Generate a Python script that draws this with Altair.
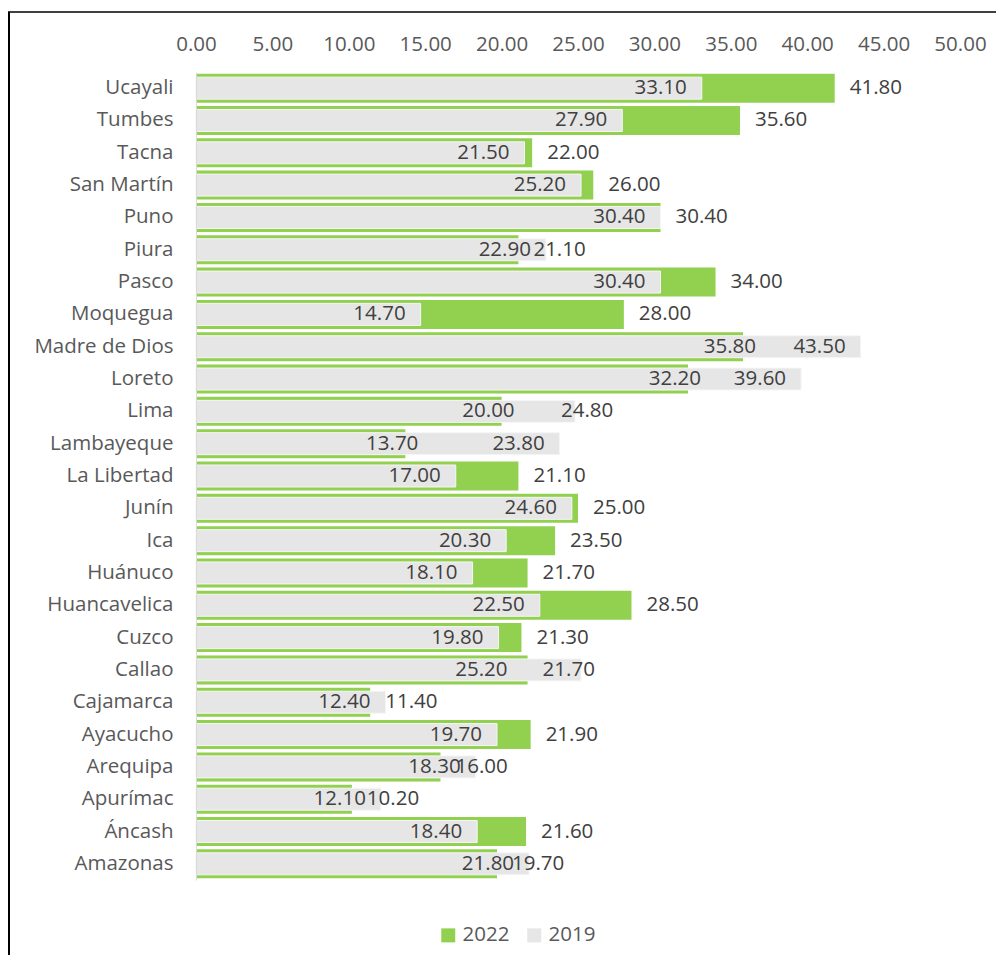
import altair as alt
import numpy as np
import pandas as pd

# ---- data ----
regions = ["Ucayali", "Tumbes", "Tacna", "San Martín", "Puno", "Piura", "Pasco",
           "Moquegua", "Madre de Dios", "Loreto", "Lima", "Lambayeque",
           "La Libertad", "Junín", "Ica", "Huánuco", "Huancavelica", "Cuzco",
           "Callao", "Cajamarca", "Ayacucho", "Arequipa", "Apurímac", "Áncash",
           "Amazonas"]
v2022 = [41.8, 35.6, 22.0, 26.0, 30.4, 21.1, 34.0, 28.0, 35.8, 32.2, 20.0, 13.7,
         21.1, 25.0, 23.5, 21.7, 28.5, 21.3, 21.7, 11.4, 21.9, 16.0, 10.2, 21.6,
         19.7]
v2019 = [33.1, 27.9, 21.5, 25.2, 30.4, 22.9, 30.4, 14.7, 43.5, 39.6, 24.8, 23.8,
         17.0, 24.6, 20.3, 18.1, 22.5, 19.8, 25.2, 12.4, 19.7, 18.3, 12.1, 18.4,
         21.8]
years = ["2022", "2019"]
x_ticks = [0, 5, 10, 15, 20, 25, 30, 35, 40, 45, 50]

n = len(regions)
long_df = pd.DataFrame({
    "region": regions * 2,
    "year": [years[0]] * n + [years[1]] * n,
    "value": v2022 + v2019,
})

# label table: one row per label, anchor position + text value
diff = np.array(v2019) - np.array(v2022)
rows = []
for i, r in enumerate(regions):
    d = diff[i]
    # 2019 label
    if 3 <= d < 4:
        mode19 = "r_green"
    elif 4 <= d < 5:
        mode19 = "l_gray"
    else:
        mode19 = "r_gray"
    # 2022 label
    mode22 = "r_green_out" if d >= 4 else "l_green"
    rows.append({"region": r, "value": v2022[i] if mode19 == "r_green" else v2019[i],
                 "text": v2019[i], "mode": mode19})
    rows.append({"region": r, "value": v2022[i], "text": v2022[i], "mode": mode22})
lab_df = pd.DataFrame(rows)

GREEN = "#92D050"
GRAY = "#E7E6E6"
FONT = "Open Sans"
FS = 20.5

W, H = 764, 808

xscale = alt.Scale(domain=[0, 50], nice=False, zero=True)
yscale = alt.Scale(paddingInner=0, paddingOuter=0)

Y = alt.Y("region:N", sort=regions, scale=yscale,
          axis=alt.Axis(title=None, ticks=False, labelPadding=23,
                        domainColor="#D9D9D9", domainWidth=1, zindex=1,
                        labelFont=FONT, labelFontSize=FS, labelColor="#595959"))

X = alt.X("value:Q", scale=xscale,
          axis=alt.Axis(orient="top", values=x_ticks, format=".2f",
                        domain=False, ticks=False, grid=False,
                        labelPadding=18, labelFlush=False, labelOverlap=False,
                        title=None, labelFont=FONT, labelFontSize=FS,
                        labelColor="#595959"))

color = alt.Color("year:N",
                  scale=alt.Scale(domain=years, range=[GREEN, GRAY]),
                  legend=alt.Legend(title=None, orient="none", direction="horizontal",
                                    legendX=242, legendY=853,
                                    symbolType="square", symbolSize=196,
                                    symbolStrokeWidth=0, labelOffset=4,
                                    columnPadding=14, labelFont=FONT,
                                    labelFontSize=FS, labelColor="#595959"))

bars = alt.Chart(long_df)
green_bars = bars.transform_filter(alt.datum.year == "2022").mark_bar(size=29).encode(
    x=X, y=Y, color=color)
gray_bars = bars.transform_filter(alt.datum.year == "2019").mark_bar(
    size=22, stroke="#F6F6F6", strokeWidth=1).encode(x=X, y=Y, color=color)

lab = alt.Chart(lab_df)


def txt(mode, align, dx):
    return lab.transform_filter(alt.datum.mode == mode).mark_text(
        align=align, baseline="middle", dx=dx, font=FONT, fontSize=FS,
        color="#404040").encode(
        x=X, y=Y, text=alt.Text("text:Q", format=".2f"))


labels = [
    txt("r_gray", "right", -15),
    txt("r_green", "right", -20),
    txt("l_gray", "left", -14),
    txt("l_green", "left", 15),
    txt("r_green_out", "right", 13),
]

# outer frame (left and top border of the chart box)
frame_df = pd.DataFrame({"k": [0]})
frame_left = alt.Chart(frame_df).mark_rule(color="#000000", strokeWidth=2).encode(
    x=alt.value(-187), y=alt.value(-60), y2=alt.value(H + 80))
frame_top = alt.Chart(frame_df).mark_rule(color="#000000", strokeWidth=1.5).encode(
    y=alt.value(-60), x=alt.value(-188), x2=alt.value(W + 40))

chart = alt.layer(
    green_bars, gray_bars, *labels, frame_left, frame_top
).properties(
    width=W, height=H,
    background="#FFFFFF",
    autosize=alt.AutoSizeParams(type="none"),
    padding={"left": 188, "top": 64, "right": 36, "bottom": 75},
).configure_view(strokeWidth=0)

chart.save("out.html", embed_options={"renderer": "svg", "actions": False})
